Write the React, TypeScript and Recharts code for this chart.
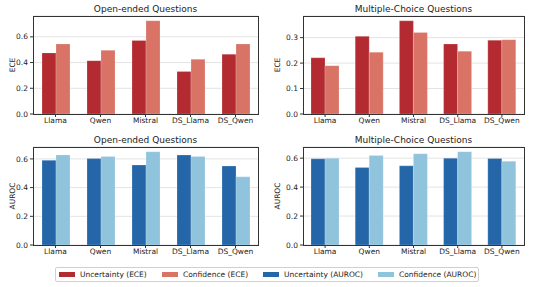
import { BarChart, Bar, XAxis, YAxis, CartesianGrid } from 'recharts'

const models = ['Llama', 'Qwen', 'Mistral', 'DS_Llama', 'DS_Qwen']

const openEceUnc = [0.475, 0.415, 0.572, 0.33, 0.465]
const openEceConf = [0.545, 0.495, 0.725, 0.425, 0.545]
const mcEceUnc = [0.221, 0.305, 0.366, 0.275, 0.29]
const mcEceConf = [0.19, 0.243, 0.32, 0.247, 0.292]
const openAurocUnc = [0.59, 0.602, 0.557, 0.627, 0.55]
const openAurocConf = [0.628, 0.617, 0.65, 0.617, 0.475]
const mcAurocUnc = [0.595, 0.535, 0.547, 0.6, 0.598]
const mcAurocConf = [0.6, 0.618, 0.63, 0.645, 0.578]

const eceOpenTicks = [0, 0.2, 0.4, 0.6]
const eceMcTicks = [0, 0.1, 0.2, 0.3]
const aurocTicks = [0, 0.2, 0.4, 0.6]

const RED_DARK = '#b42a31'
const RED_LIGHT = '#d87366'
const BLUE_DARK = '#2466a8'
const BLUE_LIGHT = '#90c3dc'

const FONT = '"DejaVu Sans", sans-serif'
const AXIS = '#333'

interface PanelProps {
  title: string
  yLabel: string
  left: number
  top: number
  unc: number[]
  conf: number[]
  ticks: number[]
  domainMax: number
  colors: [string, string]
  yAxisWidth: number
  rightMargin: number
}

function Panel({ title, yLabel, left, top, unc, conf, ticks, domainMax, colors, yAxisWidth, rightMargin }: PanelProps) {
  const data = models.map((m, i) => ({ name: m, unc: unc[i], conf: conf[i] }))
  const plotLeft = yAxisWidth
  const plotRight = 265 - rightMargin
  return (
    <div style={{ position: 'absolute', left, top, width: 265, height: 128 }}>
      <div
        style={{
          position: 'absolute',
          top: 3,
          left: plotLeft,
          width: plotRight - plotLeft,
          textAlign: 'center',
          fontSize: 9,
          color: '#222',
          lineHeight: '12px',
        }}
      >
        {title}
      </div>
      <div
        style={{
          position: 'absolute',
          left: 12,
          top: 65,
          transform: 'translate(-50%, -50%) rotate(-90deg)',
          fontSize: 7.5,
          color: '#222',
          whiteSpace: 'nowrap',
        }}
      >
        {yLabel}
      </div>
      <BarChart
        width={265}
        height={128}
        data={data}
        margin={{ top: 16, right: rightMargin, bottom: 0, left: 0 }}
        barGap={0}
        barSize={14}
      >
        <CartesianGrid vertical={false} stroke="#e3e3e3" strokeWidth={1} />
        <XAxis
          dataKey="name"
          height={14}
          interval={0}
          tick={{ fontSize: 7.5, fill: '#222', fontFamily: FONT }}
          tickLine={{ stroke: AXIS }}
          tickSize={3}
          tickMargin={1}
          axisLine={false}
        />
        <YAxis
          width={yAxisWidth}
          domain={[0, domainMax]}
          ticks={ticks}
          tickFormatter={(v: number) => v.toFixed(1)}
          tick={{ fontSize: 7.5, fill: '#222', fontFamily: FONT }}
          tickLine={{ stroke: AXIS }}
          tickSize={3}
          tickMargin={2}
          axisLine={false}
          allowDataOverflow
        />
        <Bar dataKey="unc" fill={colors[0]} stroke="#ffffff" strokeOpacity={0.4} strokeWidth={0.5} isAnimationActive={false} />
        <Bar dataKey="conf" fill={colors[1]} stroke="#ffffff" strokeOpacity={0.4} strokeWidth={0.5} isAnimationActive={false} />
      </BarChart>
      {/* frame around the plot area (matplotlib spines) */}
      <div
        style={{
          position: 'absolute',
          left: plotLeft - 0.5,
          top: 15.5,
          width: plotRight - plotLeft - 1,
          height: 97,
          border: `1px solid ${AXIS}`,
          pointerEvents: 'none',
        }}
      />
    </div>
  )
}

const legendItems = [
  { label: 'Uncertainty (ECE)', color: RED_DARK, x: 3 },
  { label: 'Confidence (ECE)', color: RED_LIGHT, x: 106 },
  { label: 'Uncertainty (AUROC)', color: BLUE_DARK, x: 207 },
  { label: 'Confidence (AUROC)', color: BLUE_LIGHT, x: 322 },
]

export default function App() {
  return (
    <div
      style={{
        position: 'fixed',
        left: 0,
        top: 0,
        width: 535,
        height: 287,
        background: '#fff',
        fontFamily: FONT,
      }}
    >
      <Panel
        title="Open-ended Questions"
        yLabel="ECE"
        left={0}
        top={0}
        unc={openEceUnc}
        conf={openEceConf}
        ticks={eceOpenTicks}
        domainMax={0.762}
        colors={[RED_DARK, RED_LIGHT]}
        yAxisWidth={33}
        rightMargin={7}
      />
      <Panel
        title="Multiple-Choice Questions"
        yLabel="ECE"
        left={265}
        top={0}
        unc={mcEceUnc}
        conf={mcEceConf}
        ticks={eceMcTicks}
        domainMax={0.385}
        colors={[RED_DARK, RED_LIGHT]}
        yAxisWidth={38}
        rightMargin={6}
      />
      <Panel
        title="Open-ended Questions"
        yLabel="AUROC"
        left={0}
        top={131}
        unc={openAurocUnc}
        conf={openAurocConf}
        ticks={aurocTicks}
        domainMax={0.683}
        colors={[BLUE_DARK, BLUE_LIGHT]}
        yAxisWidth={33}
        rightMargin={7}
      />
      <Panel
        title="Multiple-Choice Questions"
        yLabel="AUROC"
        left={265}
        top={131}
        unc={mcAurocUnc}
        conf={mcAurocConf}
        ticks={aurocTicks}
        domainMax={0.677}
        colors={[BLUE_DARK, BLUE_LIGHT]}
        yAxisWidth={38}
        rightMargin={6}
      />
      <div
        style={{
          position: 'absolute',
          left: 55,
          top: 267,
          width: 424,
          height: 15,
          boxSizing: 'border-box',
          border: '1px solid #d0d0d0',
          borderRadius: 2,
          fontSize: 7.5,
          color: '#222',
        }}
      >
        {legendItems.map((item) => (
          <div
            key={item.label}
            style={{ position: 'absolute', left: item.x, top: 0, height: 13, display: 'flex', alignItems: 'center' }}
          >
            <div style={{ width: 16, height: 5, background: item.color, marginRight: 5 }} />
            <span style={{ whiteSpace: 'nowrap' }}>{item.label}</span>
          </div>
        ))}
      </div>
    </div>
  )
}
